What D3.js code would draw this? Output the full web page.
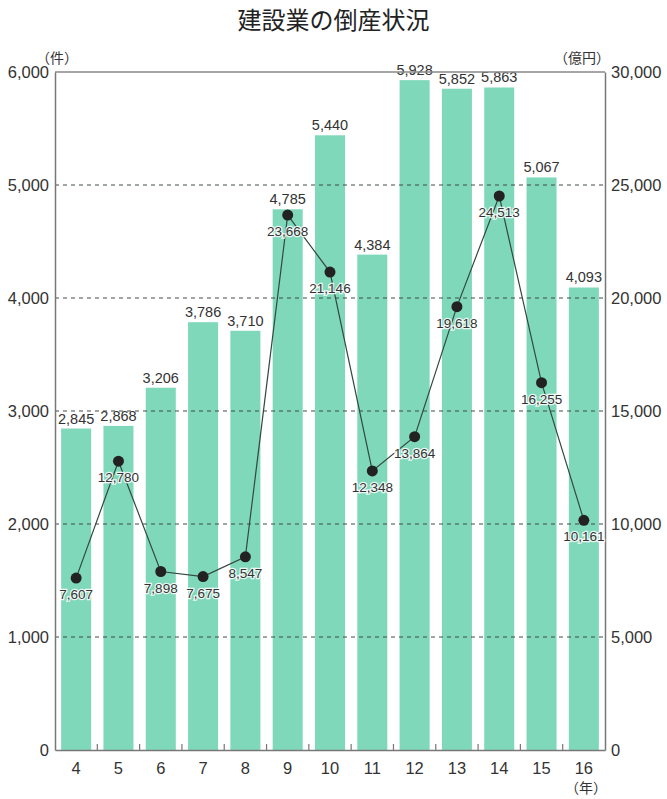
<!DOCTYPE html>
<meta charset="utf-8">
<script src="https://d3js.org/d3.v7.min.js"></script>
<style>
  body { margin: 0; background: #fff; }
  text { font-family: "Liberation Sans", Arial, sans-serif; fill: #333; }
</style>
<div id="chart"></div>
<script>

// data
var years = ["4", "5", "6", "7", "8", "9", "10", "11", "12", "13", "14", "15", "16"];
var cases = [2845, 2868, 3206, 3786, 3710, 4785, 5440, 4384, 5928, 5852, 5863, 5067, 4093];   // 件
var debts = [7607, 12780, 7898, 7675, 8547, 23668, 21146, 12348, 13864, 19618, 24513, 16255, 10161]; // 億円
var leftTicks = [0, 1000, 2000, 3000, 4000, 5000, 6000];
var rightTicks = [0, 5000, 10000, 15000, 20000, 25000, 30000];

var W = 667, H = 799;
var margin = {top: 72, right: 62, bottom: 49, left: 55},
    width = W - margin.left - margin.right,
    height = H - margin.top - margin.bottom;

var svg = d3.select("#chart").append("svg")
    .attr("width", W)
    .attr("height", H);

// title
svg.append("text")
    .attr("x", W / 2)
    .attr("y", 29)
    .attr("text-anchor", "middle")
    .style("font-family", "'Noto Sans CJK JP', sans-serif")
    .style("font-size", "24px")
    .style("fill", "#222")
    .text("建設業の倒産状況");

var g = svg.append("g")
    .attr("transform", "translate(" + margin.left + "," + margin.top + ")");

var x = d3.scaleBand()
    .domain(years)
    .range([0, width])
    .paddingInner(0.29)
    .paddingOuter(0.145);

var y = d3.scaleLinear().domain([0, 6000]).range([height, 0]);
var y2 = d3.scaleLinear().domain([0, 30000]).range([height, 0]);

var fmt = d3.format(",");

// bars
g.selectAll(".bar")
    .data(cases)
  .enter().append("rect")
    .attr("x", function(d, i) { return x(years[i]); })
    .attr("y", function(d) { return y(d); })
    .attr("width", x.bandwidth())
    .attr("height", function(d) { return height - y(d); })
    .attr("fill", "#80d8bb");

// dashed grid lines (drawn over the bars)
g.selectAll(".grid")
    .data(leftTicks.filter(function(d) { return d > 0 && d < 6000; }))
  .enter().append("line")
    .attr("x1", 0).attr("x2", width)
    .attr("y1", function(d) { return y(d); })
    .attr("y2", function(d) { return y(d); })
    .attr("stroke", "#3d4a45")
    .attr("stroke-width", 1)
    .attr("stroke-dasharray", "4,4");

// bar labels
g.selectAll(".barlabel")
    .data(cases)
  .enter().append("text")
    .attr("x", function(d, i) { return x(years[i]) + x.bandwidth() / 2; })
    .attr("y", function(d) { return y(d) - 5; })
    .attr("text-anchor", "middle")
    .style("font-size", "14.5px")
    .text(function(d) { return fmt(d); });

// frame
g.append("line").attr("x1", 0).attr("x2", width).attr("y1", 0).attr("y2", 0)
    .attr("stroke", "#888").attr("stroke-width", 1.5);

var axisL = g.append("g").call(d3.axisLeft(y).tickValues(leftTicks).tickFormat(fmt).tickSize(0).tickPadding(6));
var axisR = g.append("g").attr("transform", "translate(" + width + ",0)")
    .call(d3.axisRight(y2).tickValues(rightTicks).tickFormat(fmt).tickSize(0).tickPadding(6));
var axisB = g.append("g").attr("transform", "translate(0," + height + ")")
    .call(d3.axisBottom(x).tickSize(0).tickPadding(12));

[axisL, axisR, axisB].forEach(function(a) {
  a.select(".domain").attr("stroke", "#777").attr("stroke-width", 1.5);
  a.selectAll("text").style("font-size", "16.5px").style("font-family", "'Liberation Sans', Arial, sans-serif").attr("fill", "#333");
});

// small ticks between bars on baseline
g.selectAll(".btick")
    .data(years.slice(1))
  .enter().append("line")
    .attr("x1", function(d) { return x(d) - x.step() * x.paddingInner() / 2; })
    .attr("x2", function(d) { return x(d) - x.step() * x.paddingInner() / 2; })
    .attr("y1", height).attr("y2", height - 6)
    .attr("stroke", "#777").attr("stroke-width", 1.2);

// line series
var line = d3.line()
    .x(function(d, i) { return x(years[i]) + x.bandwidth() / 2; })
    .y(function(d) { return y2(d); });

g.append("path")
    .datum(debts)
    .attr("d", line)
    .attr("fill", "none")
    .attr("stroke", "#34483f")
    .attr("stroke-width", 1.2);

g.selectAll(".dot")
    .data(debts)
  .enter().append("circle")
    .attr("cx", function(d, i) { return x(years[i]) + x.bandwidth() / 2; })
    .attr("cy", function(d) { return y2(d); })
    .attr("r", 5.5)
    .attr("fill", "#222");

g.selectAll(".dotlabel")
    .data(debts)
  .enter().append("text")
    .attr("x", function(d, i) { return x(years[i]) + x.bandwidth() / 2; })
    .attr("y", function(d) { return y2(d) + 21; })
    .attr("text-anchor", "middle")
    .style("font-size", "13.5px")
    .style("stroke", "#fff")
    .style("stroke-width", 2.5)
    .style("stroke-opacity", 0.85)
    .style("paint-order", "stroke")
    .text(function(d) { return fmt(d); });

// unit labels
svg.append("text").attr("x", 36).attr("y", 63)
    .style("font-family", "'Noto Sans CJK JP', sans-serif").style("font-size", "14px")
    .text("（件）");
svg.append("text").attr("x", 610).attr("y", 63).attr("text-anchor", "end")
    .style("font-family", "'Noto Sans CJK JP', sans-serif").style("font-size", "14px")
    .text("（億円）");
svg.append("text").attr("x", 586).attr("y", 793).attr("text-anchor", "middle")
    .style("font-family", "'Noto Sans CJK JP', sans-serif").style("font-size", "14px")
    .text("（年）");

</script>
